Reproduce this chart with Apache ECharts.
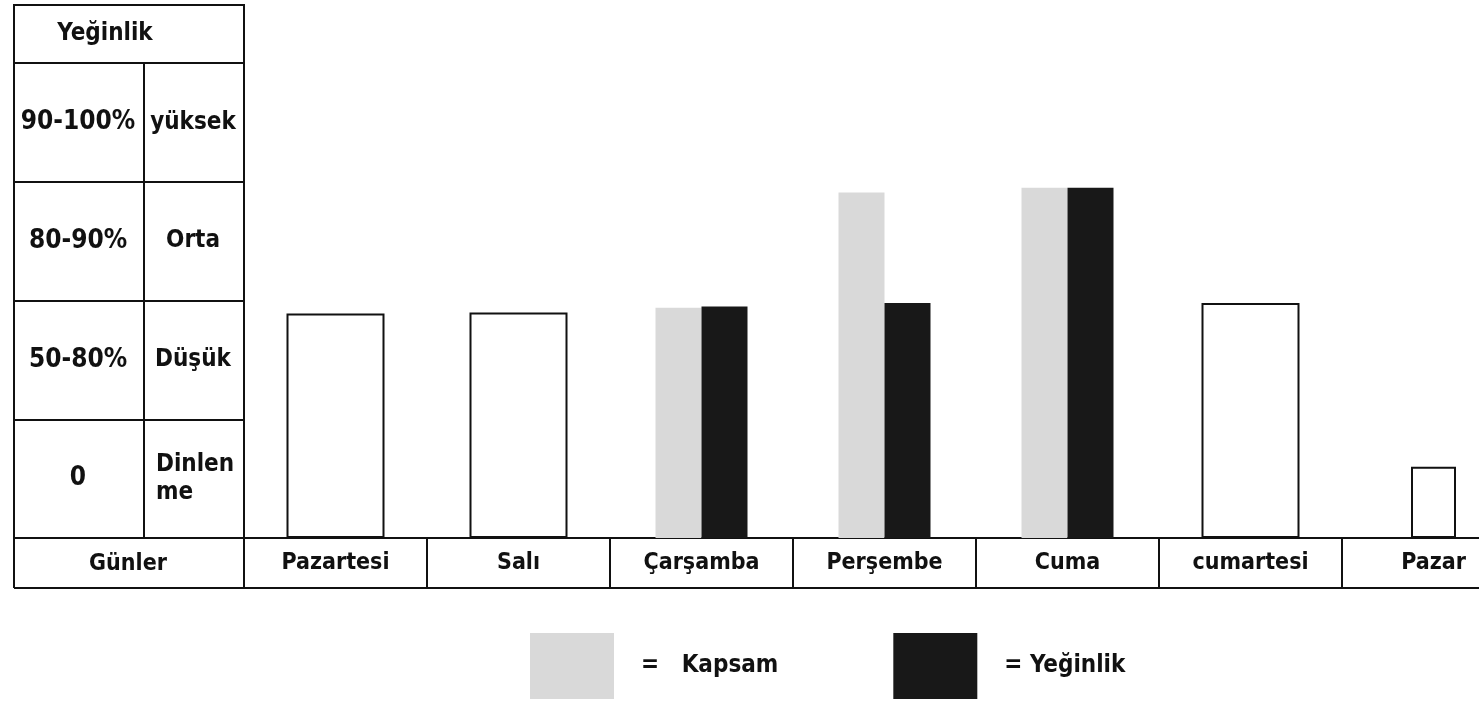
<!DOCTYPE html>
<html>
<head>
<meta charset="utf-8">
<script src="https://cdn.jsdelivr.net/npm/echarts@6/dist/echarts.min.js"></script>
<style>
html,body{margin:0;padding:0;background:#fff;}
#chart{width:1479px;height:701px;}
</style>
</head>
<body>
<div id="chart"></div>
<script>
// ---- data ----
const days = ['Pazartesi', 'Salı', 'Çarşamba', 'Perşembe', 'Cuma', 'cumartesi', 'Pazar'];
const levelRanges = ['90-100%', '80-90%', '50-80%', '0'];
const levelNames = ['yüksek', 'Orta', 'Düşük', 'Dinlen\nme'];
// values in "level units" (each table row = 1 unit, 0..4)
const gunDegeri = [1.89, 1.90, null, null, null, 1.98, null];
const pazarDegeri = [null, null, null, null, null, null, 0.6];
const kapsam = [null, null, 1.94, 2.91, 2.95, null, null];
const yeginlik = [null, null, 1.95, 1.98, 2.95, null, null];

const FONT = "'Liberation Sans Narrow','DejaVu Sans Condensed','Arial Narrow',sans-serif";
const INK = '#111';
const W = 'bold';

const chart = echarts.init(document.getElementById('chart'), null, {renderer: 'canvas'});
chart.setOption({
  animation: false,
  backgroundColor: '#fff',
  textStyle: {fontFamily: FONT, color: INK, fontWeight: W},
  grid: {left: 244, right: -46, top: 63, bottom: 163, containLabel: false, outerBoundsMode: 'none'},
  legend: {
    data: ['Kapsam', 'Yeğinlik'],
    left: 525, top: 628,
    itemWidth: 84, itemHeight: 66, itemGap: 115,
    icon: 'rect',
    formatter: function (n) { return n === 'Kapsam' ? '{t|=   Kapsam}' : '{t|= Yeğinlik}'; },
    textStyle: {
      fontFamily: FONT, color: INK, fontSize: 24, fontWeight: W,
      rich: {t: {fontFamily: FONT, fontSize: 24, fontWeight: W, color: INK, padding: [0, 0, 0, 22]}}
    }
  },
  xAxis: [
    {
      type: 'category', data: days, position: 'bottom',
      axisLine: {show: true, lineStyle: {color: INK, width: 2}},
      axisTick: {show: true, inside: false, length: 50, lineStyle: {color: INK, width: 2}},
      axisLabel: {margin: 14, fontFamily: FONT, fontSize: 23, fontWeight: W, color: INK, interval: 0},
      splitLine: {show: false}
    },
    {type: 'category', data: days, show: false},
    {type: 'category', data: days, show: false}
  ],
  yAxis: [
    {type: 'value', min: 0, max: 4, show: false, position: 'right'},
    {
      type: 'category', data: levelRanges, inverse: true, position: 'left', offset: 100,
      axisLine: {show: true, lineStyle: {color: INK, width: 2}},
      axisTick: {show: false},
      axisLabel: {align: 'center', margin: 66, fontFamily: FONT, fontSize: 26, fontWeight: W, color: INK},
      splitLine: {show: false}
    },
    {
      type: 'category', data: levelNames, inverse: true, position: 'left', offset: 0,
      axisLine: {show: true, lineStyle: {color: INK, width: 2}},
      axisTick: {show: true, inside: false, length: 230, lineStyle: {color: INK, width: 2}},
      axisLabel: {
        align: 'center', margin: 51, fontFamily: FONT, fontSize: 24, fontWeight: W, color: INK,
        formatter: function (v) {
          if (v.indexOf('\n') >= 0) {
            return v.split('\n').map(function (s) { return '{l|' + s + '}'; }).join('\n');
          }
          return v;
        },
        rich: {l: {width: 74, align: 'left', fontFamily: FONT, fontSize: 24, fontWeight: W, color: INK, lineHeight: 28}}
      },
      splitLine: {show: false}
    }
  ],
  series: [
    {
      name: 'Gün', type: 'bar', xAxisIndex: 1, yAxisIndex: 0, barWidth: 98,
      data: gunDegeri,
      itemStyle: {color: '#fff', borderColor: INK, borderWidth: 2}
    },
    {
      name: 'Pazar', type: 'bar', xAxisIndex: 2, yAxisIndex: 0, barWidth: 45,
      data: pazarDegeri,
      itemStyle: {color: '#fff', borderColor: INK, borderWidth: 2}
    },
    {
      name: 'Kapsam', type: 'bar', xAxisIndex: 0, yAxisIndex: 0, barWidth: 46, barGap: '0%',
      data: kapsam,
      itemStyle: {color: '#d9d9d9'}
    },
    {
      name: 'Yeğinlik', type: 'bar', xAxisIndex: 0, yAxisIndex: 0, barWidth: 46, barGap: '0%',
      data: yeginlik,
      itemStyle: {color: '#181818'}
    }
  ],
  graphic: [
    {type: 'rect', shape: {x: 14, y: 5, width: 230, height: 58}, style: {fill: 'none', stroke: INK, lineWidth: 2}},
    {type: 'text', x: 105, y: 34, style: {text: 'Yeğinlik', font: 'bold 24px ' + FONT, fill: INK, textAlign: 'center', textVerticalAlign: 'middle'}},
    {type: 'line', shape: {x1: 14, y1: 63, x2: 14, y2: 588}, style: {stroke: INK, lineWidth: 2}},
    {type: 'line', shape: {x1: 14, y1: 588, x2: 1479, y2: 588}, style: {stroke: INK, lineWidth: 2}},
    {type: 'text', x: 128, y: 564, style: {text: 'Günler', font: 'bold 23px ' + FONT, fill: INK, textAlign: 'center', textVerticalAlign: 'middle'}}
  ]
});
</script>
</body>
</html>
